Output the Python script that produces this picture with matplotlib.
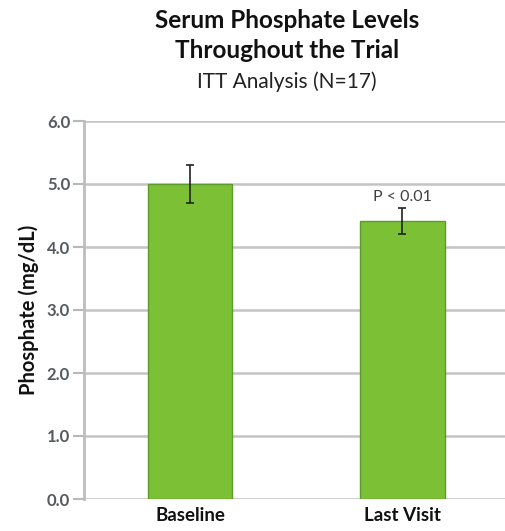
import numpy as np
import matplotlib.pyplot as plt

visits = ["Baseline", "Last Visit"]
phosphate = [5.00, 4.41]
errors = [0.30, 0.21]
yticks = [0.0, 1.0, 2.0, 3.0, 4.0, 5.0, 6.0]

plt.rcParams['font.family'] = ['Lato', 'DejaVu Sans']

fig = plt.figure(figsize=(5.06, 5.31), dpi=100)
ax = fig.add_axes([84 / 506, 32 / 531, 422 / 506, 378 / 531])

x = np.arange(len(visits))
ax.bar(x, phosphate, width=0.4, color="#7cc035", edgecolor="#5c9a2c",
       linewidth=1.0, zorder=3)
ax.errorbar(x, phosphate, yerr=errors, fmt="none", ecolor="#222222",
            elinewidth=1.2, capsize=3, capthick=1.2, zorder=4)

ax.text(x[1], phosphate[1] + errors[1] + 0.07, "P < 0.01", ha="center",
        va="bottom", fontsize=11.5, color="#404040")

ax.set_xlim(-0.5, 1.49)
ax.set_ylim(0, 6)
ax.set_yticks(yticks)
ax.set_yticklabels([f"{v:.1f}" for v in yticks], fontsize=12,
                   fontweight="bold", color="#555a60")
ax.set_xticks(x)
ax.set_xticklabels(visits, fontsize=13.5, fontweight="bold", color="#111111")
ax.tick_params(axis="x", length=0, pad=6)
ax.tick_params(axis="y", length=8, width=1.5, color="#b8b8b8", pad=2)

ax.grid(axis="y", color="#c4c4c4", linewidth=1.8, zorder=0)
for side in ["top", "right", "bottom"]:
    ax.spines[side].set_visible(False)
ax.spines["left"].set_color("#bdbdbd")
ax.spines["left"].set_linewidth(2)

ax.set_ylabel("Phosphate (mg/dL)", fontsize=14.5, fontweight="bold",
              color="#111111", labelpad=6)

fig.text(287 / 506, 1 - 21 / 531, "Serum Phosphate Levels", ha="center",
         va="center", fontsize=17.5, fontweight="bold", color="#111111")
fig.text(287 / 506, 1 - 50 / 531, "Throughout the Trial", ha="center",
         va="center", fontsize=17.5, fontweight="bold", color="#111111")
fig.text(287 / 506, 1 - 82 / 531, "ITT Analysis (N=17)", ha="center",
         va="center", fontsize=15, color="#222222")

fig.savefig("out.png", dpi=100)
